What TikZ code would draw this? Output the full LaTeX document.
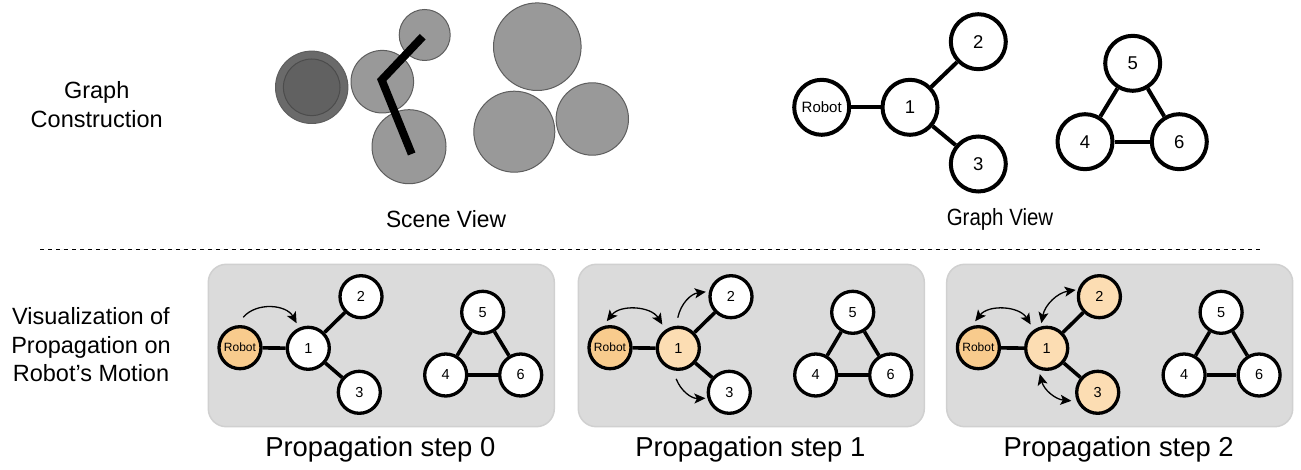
\documentclass[tikz,border=0pt]{standalone}
\usepackage{fontspec}
\usepackage{graphicx}
\setmainfont{Liberation Sans}
\usetikzlibrary{arrows.meta,shadows}
\definecolor{robotc}{HTML}{F8CB8D}
\definecolor{litec}{HTML}{FCDDB3}
\definecolor{panelc}{HTML}{DBDBDB}
\definecolor{panelline}{HTML}{D0D0D0}
\definecolor{obst}{HTML}{999999}
\definecolor{obstline}{HTML}{5E5E5E}
\definecolor{darkob}{HTML}{6A6A6A}
\definecolor{darkin}{HTML}{616161}
\newcommand{\fsz}[1]{\fontsize{#1}{#1}\selectfont}
\newcommand{\panelgraph}[5]{%
  \draw[panelbox] (0,264.3) rectangle (346,426.7);
  \node[pnode,fill=#2,font=\fsz{12}] (#1R) at (31.7,347.7) {Robot};
  \node[pnode,fill=#3] (#1n1) at (100,348.3) {1};
  \node[pnode,fill=#4] (#1n2) at (152.7,296.7) {2};
  \node[pnode,fill=#5] (#1n3) at (151,392.3) {3};
  \node[pnode] (#1n5) at (274.4,312.3) {5};
  \node[pnode] (#1n4) at (237.4,375) {4};
  \node[pnode] (#1n6) at (312.4,375) {6};
  \draw[pedge] (#1R) -- (#1n1);
  \draw[pedge] (#1n1) -- (#1n2);
  \draw[pedge] (#1n1) -- (#1n3);
  \draw[pedge] (#1n5) -- (#1n4);
  \draw[pedge] (#1n5) -- (#1n6);
  \draw[pedge] (#1n4) -- (#1n6);
}
\begin{document}
\begin{tikzpicture}[x=1pt,y=-1pt,
  gnode/.style={circle,draw,line width=4pt,fill=white,minimum size=55pt,inner sep=0pt,font=\fsz{18.5},
    drop shadow={shadow xshift=1.5pt,shadow yshift=-1.5pt,opacity=0.18,fill=black}},
  pnode/.style={circle,draw,line width=3.3pt,fill=white,minimum size=42pt,inner sep=0pt,font=\fsz{14.5},
    drop shadow={shadow xshift=1.2pt,shadow yshift=-1.2pt,opacity=0.12,fill=black}},
  gedge/.style={line width=4pt},
  pedge/.style={line width=3.6pt},
  arr/.style={line width=1.3pt,-{Stealth[length=11pt,width=10pt,inset=2.5pt]}},
  darr/.style={line width=1.3pt,{Stealth[length=11pt,width=10pt,inset=2.5pt]}-{Stealth[length=11pt,width=10pt,inset=2.5pt]}},
  obs/.style={draw=obstline,fill=obst,line width=1pt},
  panelbox/.style={fill=panelc,draw=panelline,line width=1.5pt,rounded corners=18pt},
  lbl/.style={align=center,font=\fontsize{23.5}{28.5}\selectfont},
  captxt/.style={font=\fsz{27.4}}]
\useasboundingbox (0,0) rectangle (1301,470);

% left labels
\node[lbl] (lab1) at (96.7,104.5) {Graph\\Construction};
\node[lbl] (lab2) at (91,345) {Visualization of\\Propagation on\\Robot’s Motion};

% scene view
\draw[obs,fill=darkob] (311.7,87.3) circle[radius=36.2];
\draw[draw=black!70,fill=darkin,line width=1pt] (311.7,87.3) circle[radius=28.3];
\draw[obs] (382.3,81.7) circle[radius=31.3];
\draw[obs] (424.7,35) circle[radius=25.5];
\draw[obs] (409,146.7) circle[radius=37];
\draw[obs] (537.3,46.7) circle[radius=43.8];
\draw[obs] (514.3,131.7) circle[radius=40.5];
\draw[obs] (592.3,119) circle[radius=36.2];
\draw[line width=8pt,line join=miter] (422.7,36.7) -- (381.7,80) -- (411.7,154);
\node[font=\fsz{23.5}] (scap) at (446,219) {\scalebox{0.97}[1]{Scene View}};

% graph view
\node[gnode,font=\fsz{15}] (gR) at (821.7,107.3) {Robot};
\node[gnode] (g1) at (910,107.3) {1};
\node[gnode] (g2) at (978.3,41.7) {2};
\node[gnode] (g3) at (978.3,164) {3};
\node[gnode] (g5) at (1132.7,63.3) {5};
\node[gnode] (g4) at (1085,141.7) {4};
\node[gnode] (g6) at (1179.3,141.7) {6};
\draw[gedge] (gR) -- (g1);
\draw[gedge] (g1) -- (g2);
\draw[gedge] (g1) -- (g3);
\draw[gedge] (g5) -- (g4);
\draw[gedge] (g5) -- (g6);
\draw[gedge] (g4) -- (g6);
\node[font=\fsz{23.5}] (gcap) at (1000,219) {\scalebox{0.87}[1]{Graph View}};

% dashed separator
\draw[line width=1pt,dash pattern=on 4pt off 4pt] (40,250) -- (1262,250);

% panels
\begin{scope}[shift={(208.3,0)}]
  \panelgraph{a}{robotc}{white}{white}{white}
  \draw[arr] ([shift={(84:8pt)}]aR.84) to[bend left=55] ([shift={(115:5pt)}]an1.115);
  \node[captxt] (capa) at (172,449) {Propagation step 0};
\end{scope}
\begin{scope}[shift={(578.3,0)}]
  \panelgraph{b}{robotc}{litec}{white}{white}
  \draw[darr] ([shift={(97:4pt)}]bR.97) to[bend left=55] ([shift={(124:6pt)}]bn1.124);
  \draw[arr] ([shift={(91:8pt)}]bn1.91) to[bend left=35] ([shift={(169:3pt)}]bn2.169);
  \draw[arr] ([shift={(266:8pt)}]bn1.266) to[bend right=35] ([shift={(194:2pt)}]bn3.194);
  \node[captxt] (capb) at (172,449) {Propagation step 1};
\end{scope}
\begin{scope}[shift={(946.7,0)}]
  \panelgraph{c}{robotc}{litec}{litec}{litec}
  \draw[darr] ([shift={(97:4pt)}]cR.97) to[bend left=55] ([shift={(124:6pt)}]cn1.124);
  \draw[darr] ([shift={(102:3pt)}]cn1.102) to[bend left=35] ([shift={(164:2pt)}]cn2.164);
  \draw[darr] ([shift={(255:4pt)}]cn1.255) to[bend right=35] ([shift={(198:5pt)}]cn3.198);
  \node[captxt] (capc) at (172,449) {Propagation step 2};
\end{scope}
\end{tikzpicture}
\end{document}
